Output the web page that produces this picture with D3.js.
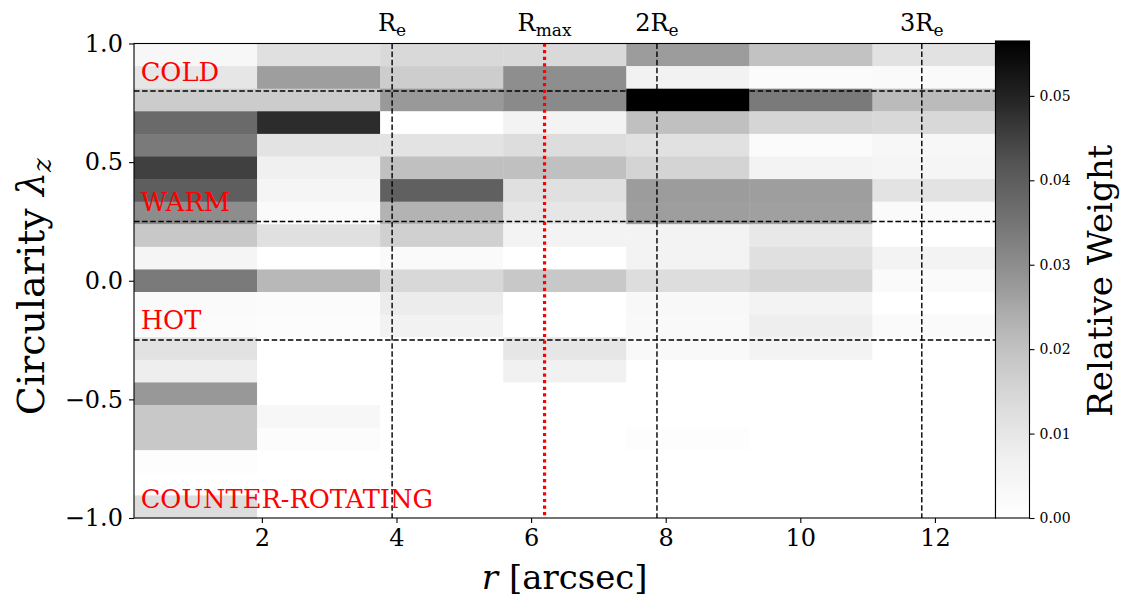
<!DOCTYPE html>
<html>
<head>
<meta charset="utf-8">
<script src="https://cdn.jsdelivr.net/npm/d3@7"></script>
<style>
  body { margin: 0; background: #fff; }
  svg text { font-family: "DejaVu Serif", serif; fill: #000; }
</style>
</head>
<body>
<svg id="chart" width="1126" height="602"></svg>
<script>
// Radial bins: 7 equal bins between these edges (arcsec)
const radiusRange = [0.1, 12.9];
const nRadialBins = 7;
// Circularity bins: 21 equal bins between -1 and 1
const circularityRange = [-1, 1];
const nCircBins = 21;

// Relative orbital weight per radial bin, listed from lambda_z = +1 (top) down to -1 (bottom)
const bin1 = [0.0038, 0.0101, 0.0174, 0.0372, 0.0339, 0.0452, 0.0397, 0.0300, 0.0184, 0.0047, 0.0339,
              0.0024, 0.0019, 0.0114, 0.0077, 0.0279, 0.0184, 0.0184, 0.0009, 0.0000, 0.0129];
const bin2 = [0.0120, 0.0268, 0.0174, 0.0483, 0.0111, 0.0071, 0.0047, 0.0024, 0.0120, 0.0000, 0.0221,
              0.0019, 0.0014, 0.0000, 0.0000, 0.0000, 0.0036, 0.0014, 0.0000, 0.0000, 0.0000];
const bin3 = [0.0141, 0.0172, 0.0277, 0.0000, 0.0111, 0.0204, 0.0394, 0.0230, 0.0164, 0.0024, 0.0144,
              0.0083, 0.0061, 0.0000, 0.0000, 0.0000, 0.0000, 0.0000, 0.0000, 0.0000, 0.0000];
const bin4 = [0.0141, 0.0298, 0.0307, 0.0057, 0.0129, 0.0204, 0.0120, 0.0101, 0.0057, 0.0000, 0.0184,
              0.0000, 0.0000, 0.0101, 0.0068, 0.0000, 0.0000, 0.0000, 0.0000, 0.0000, 0.0000];
const bin5 = [0.0272, 0.0061, 0.0565, 0.0204, 0.0117, 0.0154, 0.0272, 0.0268, 0.0057, 0.0057, 0.0129,
              0.0033, 0.0028, 0.0028, 0.0000, 0.0000, 0.0000, 0.0009, 0.0000, 0.0000, 0.0000];
const bin6 = [0.0199, 0.0019, 0.0339, 0.0151, 0.0019, 0.0057, 0.0268, 0.0264, 0.0095, 0.0120, 0.0149,
              0.0057, 0.0077, 0.0057, 0.0000, 0.0000, 0.0000, 0.0000, 0.0000, 0.0000, 0.0000];
const bin7 = [0.0114, 0.0024, 0.0215, 0.0144, 0.0038, 0.0047, 0.0111, 0.0024, 0.0000, 0.0057, 0.0024,
              0.0000, 0.0024, 0.0000, 0.0000, 0.0000, 0.0000, 0.0000, 0.0000, 0.0000, 0.0000];
const weights = [bin1, bin2, bin3, bin4, bin5, bin6, bin7];

// Characteristic radii (arcsec)
const Re = 3.935;
const Rmax = 6.2;
const radiusMarkers = [
  { r: Re,     base: "R", sub: "e" },
  { r: 2 * Re, base: "2R", sub: "e" },
  { r: 3 * Re, base: "3R", sub: "e" }
];
// Component boundaries in circularity
const componentCuts = [0.8, 0.25, -0.25];
const componentLabels = [
  { name: "COLD", y: 0.844 },
  { name: "WARM", y: 0.294 },
  { name: "HOT", y: -0.204 },
  { name: "COUNTER-ROTATING", y: -0.957 }
];

const xTicks = [2, 4, 6, 8, 10, 12];
const yTicks = [-1.0, -0.5, 0.0, 0.5, 1.0];
const cbarTicks = [0.00, 0.01, 0.02, 0.03, 0.04, 0.05];

// ---------------------------------------------------------------------------
const svg = d3.select("#chart");
const plot = { left: 134, right: 995.5, top: 43.5, bottom: 518 };
const cbar = { left: 995.5, right: 1029.5, top: 41, bottom: 518 };

const x = d3.scaleLinear().domain(radiusRange).range([plot.left, plot.right]);
const y = d3.scaleLinear().domain(circularityRange).range([plot.bottom, plot.top]);

const vmax = d3.max(weights, col => d3.max(col));
// matplotlib "Greys" colormap (ColorBrewer, piecewise linear)
const greyStops = ["#ffffff", "#f0f0f0", "#d9d9d9", "#bdbdbd", "#969696",
                   "#737373", "#525252", "#252525", "#000000"];
const greys = d3.scaleLinear()
  .domain(d3.range(greyStops.length).map(i => i / (greyStops.length - 1)))
  .range(greyStops)
  .interpolate(d3.interpolateRgb)
  .clamp(true);
const color = v => greys(v / vmax);

const rEdges = d3.range(nRadialBins + 1).map(i =>
  radiusRange[0] + i * (radiusRange[1] - radiusRange[0]) / nRadialBins);
const cEdges = d3.range(nCircBins + 1).map(i =>
  circularityRange[1] - i * (circularityRange[1] - circularityRange[0]) / nCircBins);

const cells = [];
weights.forEach((col, i) => col.forEach((w, j) => {
  cells.push({ r0: rEdges[i], r1: rEdges[i + 1], c0: cEdges[j + 1], c1: cEdges[j], w });
}));

svg.append("g")
  .selectAll("rect")
  .data(cells)
  .join("rect")
  .attr("x", d => x(d.r0))
  .attr("y", d => y(d.c1))
  .attr("width", d => x(d.r1) - x(d.r0) + 0.4)
  .attr("height", d => y(d.c0) - y(d.c1) + 0.4)
  .attr("fill", d => color(d.w));

// Component boundaries
svg.append("g")
  .selectAll("line")
  .data(componentCuts)
  .join("line")
  .attr("x1", plot.left).attr("x2", plot.right)
  .attr("y1", d => y(d)).attr("y2", d => y(d))
  .attr("stroke", "#000").attr("stroke-width", 1.4)
  .attr("stroke-dasharray", "5.5,2.6");

// Radius markers
svg.append("g")
  .selectAll("line")
  .data(radiusMarkers)
  .join("line")
  .attr("x1", d => x(d.r)).attr("x2", d => x(d.r))
  .attr("y1", plot.top).attr("y2", plot.bottom)
  .attr("stroke", "#000").attr("stroke-width", 1.4)
  .attr("stroke-dasharray", "5.5,2.6");

svg.append("line")
  .attr("x1", x(Rmax)).attr("x2", x(Rmax))
  .attr("y1", plot.top).attr("y2", plot.bottom)
  .attr("stroke", "#ff0000").attr("stroke-width", 3.2)
  .attr("stroke-dasharray", "3.2,3.4");

// Labels above the plot
const topLabels = radiusMarkers.concat([{ r: Rmax, base: "R", sub: "max" }]);
topLabels.forEach(d => {
  const t = svg.append("text")
    .attr("x", x(d.r)).attr("y", 31)
    .attr("text-anchor", "middle")
    .style("font-size", "24px");
  t.append("tspan").text(d.base);
  t.append("tspan").attr("dy", 5).style("font-size", "17px").text(d.sub);
});

// Component names
svg.append("g")
  .selectAll("text")
  .data(componentLabels)
  .join("text")
  .attr("x", x(0.2))
  .attr("y", d => y(d.y))
  .style("font-size", "25.7px")
  .style("fill", "#ff0000")
  .text(d => d.name);

// Axes
const xAxis = svg.append("g")
  .attr("transform", `translate(0,${plot.bottom})`)
  .call(d3.axisBottom(x).tickValues(xTicks).tickFormat(d3.format("d"))
    .tickSize(5).tickPadding(6).tickSizeOuter(0));
const yAxis = svg.append("g")
  .attr("transform", `translate(${plot.left},0)`)
  .call(d3.axisLeft(y).tickValues(yTicks).tickFormat(d3.format(".1f"))
    .tickSize(5).tickPadding(6).tickSizeOuter(0));
[xAxis, yAxis].forEach(g => {
  g.select(".domain").remove();
  g.selectAll(".tick line").attr("stroke", "#000").attr("stroke-width", 1.1);
  g.selectAll(".tick text").style("font-size", "24px").attr("fill", "#000")
    .style("font-family", "DejaVu Serif, serif");
});

// Plot frame
svg.append("rect")
  .attr("x", plot.left).attr("y", plot.top)
  .attr("width", plot.right - plot.left).attr("height", plot.bottom - plot.top)
  .attr("fill", "none").attr("stroke", "#000").attr("stroke-width", 1.1);

// Axis titles
const xt = svg.append("text")
  .attr("x", (plot.left + plot.right) / 2).attr("y", 589)
  .attr("text-anchor", "middle").style("font-size", "34px");
xt.append("tspan").style("font-style", "italic").text("r");
xt.append("tspan").text(" [arcsec]");

const yt = svg.append("text")
  .attr("transform", `translate(44,${(plot.top + plot.bottom) / 2 + 6}) rotate(-90)`)
  .attr("text-anchor", "middle").style("font-size", "38px");
yt.append("tspan").text("Circularity ");
yt.append("tspan").style("font-style", "italic").text("λ");
yt.append("tspan").attr("dy", 7).style("font-style", "italic").style("font-size", "26px").text("z");

// Colour bar
const defs = svg.append("defs");
const grad = defs.append("linearGradient")
  .attr("id", "cbarGrad").attr("x1", 0).attr("y1", 1).attr("x2", 0).attr("y2", 0);
d3.range(0, 1.0001, 0.02).forEach(t => {
  grad.append("stop").attr("offset", t).attr("stop-color", greys(t));
});
svg.append("rect")
  .attr("x", cbar.left).attr("y", cbar.top)
  .attr("width", cbar.right - cbar.left).attr("height", cbar.bottom - cbar.top)
  .attr("fill", "url(#cbarGrad)")
  .attr("stroke", "#000").attr("stroke-width", 1.1);

const cy = d3.scaleLinear().domain([0, vmax]).range([cbar.bottom, cbar.top]);
const cAxis = svg.append("g")
  .attr("transform", `translate(${cbar.right},0)`)
  .call(d3.axisRight(cy).tickValues(cbarTicks).tickFormat(d3.format(".2f"))
    .tickSize(5).tickPadding(5).tickSizeOuter(0));
cAxis.select(".domain").remove();
cAxis.selectAll(".tick line").attr("stroke", "#000").attr("stroke-width", 1.1);
cAxis.selectAll(".tick text").style("font-size", "14px").attr("fill", "#000")
  .style("font-family", "DejaVu Serif, serif");

svg.append("text")
  .attr("transform", `translate(1112,${(plot.top + plot.bottom) / 2}) rotate(-90)`)
  .attr("text-anchor", "middle").style("font-size", "34px")
  .text("Relative Weight");
</script>
</body>
</html>
